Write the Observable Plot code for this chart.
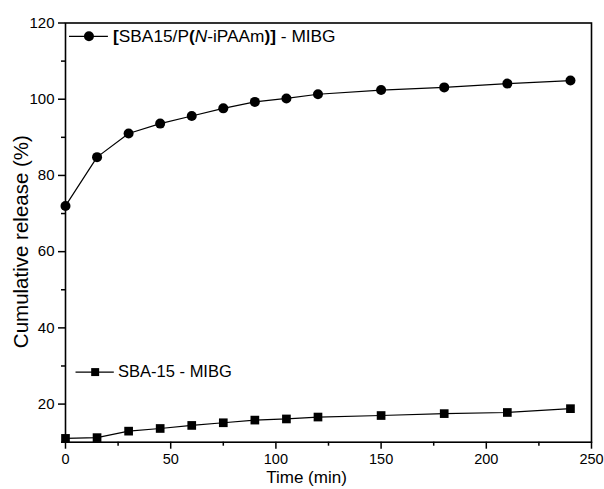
<!DOCTYPE html>
<html>
<head>
<meta charset="utf-8">
<script src="https://cdn.jsdelivr.net/npm/d3@7"></script>
<script src="https://cdn.jsdelivr.net/npm/@observablehq/plot@0.6"></script>
<style>
  html, body { margin: 0; padding: 0; background: #fff; }
  #chart { width: 604px; height: 489px; }
  svg { font-family: Arial, "Liberation Sans", sans-serif; }
</style>
</head>
<body>
<div id="chart"></div>
<script>
// ---- data ----
const times = [0, 15, 30, 45, 60, 75, 90, 105, 120, 150, 180, 210, 240];
const polymerRelease = [72.0, 84.8, 91.0, 93.6, 95.6, 97.6, 99.3, 100.2, 101.3, 102.4, 103.1, 104.1, 104.9];
const sbaRelease = [11.0, 11.2, 12.9, 13.6, 14.4, 15.1, 15.8, 16.1, 16.6, 17.0, 17.5, 17.8, 18.8];
const seriesNames = ["[SBA15/P(N-iPAAm)] - MIBG", "SBA-15 - MIBG"];
const xTicks = [0, 50, 100, 150, 200, 250];
const xMinorTicks = [25, 75, 125, 175, 225];
const yTicks = [20, 40, 60, 80, 100, 120];
const yMinorTicks = [10, 30, 50, 70, 90, 110];

const polymer = times.map((t, i) => ({time: t, value: polymerRelease[i]}));
const sba = times.map((t, i) => ({time: t, value: sbaRelease[i]}));

// legend anchors (data units)
const leg1 = {x0: 1.9, x1: 20.4, y: 116.5, tx: 22.6};
const leg2 = {x0: 5.0, x1: 23.2, y: 28.4, tx: 25.0};

const chart = Plot.plot({
  width: 604,
  height: 489,
  marginLeft: 65,
  marginRight: 13,
  marginTop: 22.5,
  marginBottom: 47.3,
  style: {fontFamily: "Arial, 'Liberation Sans', sans-serif", color: "#000", background: "#fff"},
  x: {domain: [0, 250]},
  y: {domain: [10, 120]},
  marks: [
    Plot.axisX(xTicks, {tickSize: 7, tickPadding: 4.5, fontSize: 14.5, label: null, strokeWidth: 1.5}),
    Plot.axisX(xMinorTicks, {tickSize: 4, tickFormat: () => "", label: null, strokeWidth: 1.5}),
    Plot.axisY(yTicks, {tickSize: 7, tickPadding: 4, fontSize: 15, label: null, strokeWidth: 1.5}),
    Plot.axisY(yMinorTicks, {tickSize: 4, tickFormat: () => "", label: null, strokeWidth: 1.5}),
    Plot.frame({stroke: "#000", strokeWidth: 1.6}),
    Plot.line(polymer, {x: "time", y: "value", stroke: "#000", strokeWidth: 1.2}),
    Plot.dot(polymer, {x: "time", y: "value", symbol: "circle", r: 5, fill: "#000", stroke: "none"}),
    Plot.line(sba, {x: "time", y: "value", stroke: "#000", strokeWidth: 1.2}),
    Plot.dot(sba, {x: "time", y: "value", symbol: "square", r: 4.9, fill: "#000", stroke: "none"}),
    // legend 1
    Plot.ruleY([leg1.y], {x1: leg1.x0, x2: leg1.x1, stroke: "#000", strokeWidth: 1.2}),
    Plot.dot([0], {x: () => (leg1.x0 + leg1.x1) / 2, y: () => leg1.y, symbol: "circle", r: 5, fill: "#000"}),
    Plot.text([seriesNames[0]], {x: () => leg1.tx, y: () => leg1.y, text: d => d, textAnchor: "start", fontSize: 17.3, fill: "#000", className: "leg1"}),
    // legend 2
    Plot.ruleY([leg2.y], {x1: leg2.x0, x2: leg2.x1, stroke: "#000", strokeWidth: 1.2}),
    Plot.dot([0], {x: () => (leg2.x0 + leg2.x1) / 2, y: () => leg2.y, symbol: "square", r: 4.5, fill: "#000"}),
    Plot.text([seriesNames[1]], {x: () => leg2.tx, y: () => leg2.y, text: d => d, textAnchor: "start", fontSize: 16.5, fill: "#000"}),
    // axis titles
    Plot.text(["Time (min)"], {frameAnchor: "bottom", dy: 40.5, dx: -22, text: d => d, fontSize: 17, fill: "#000", lineAnchor: "bottom", textAnchor: "middle"}),
    Plot.text(["Cumulative release (%)"], {frameAnchor: "left", dx: -37.5, dy: 9, text: d => d, fontSize: 20.5, fill: "#000", rotate: -90, lineAnchor: "bottom", textAnchor: "middle"})
  ]
});

// rich text for legend 1: bold brackets, italic N
const t1 = d3.select(chart).select("g.leg1 text");
if (!t1.empty()) {
  t1.text(null);
  const parts = [["[", "bold", "normal"], ["SBA15/P", "normal", "normal"], ["(", "bold", "normal"], ["N", "normal", "italic"], ["-iPAAm", "normal", "normal"], [")]", "bold", "normal"], [" - MIBG", "normal", "normal"]];
  for (const [s, w, st] of parts) t1.append("tspan").attr("font-weight", w).attr("font-style", st).text(s);
}
document.getElementById("chart").appendChild(chart);
</script>
</body>
</html>
